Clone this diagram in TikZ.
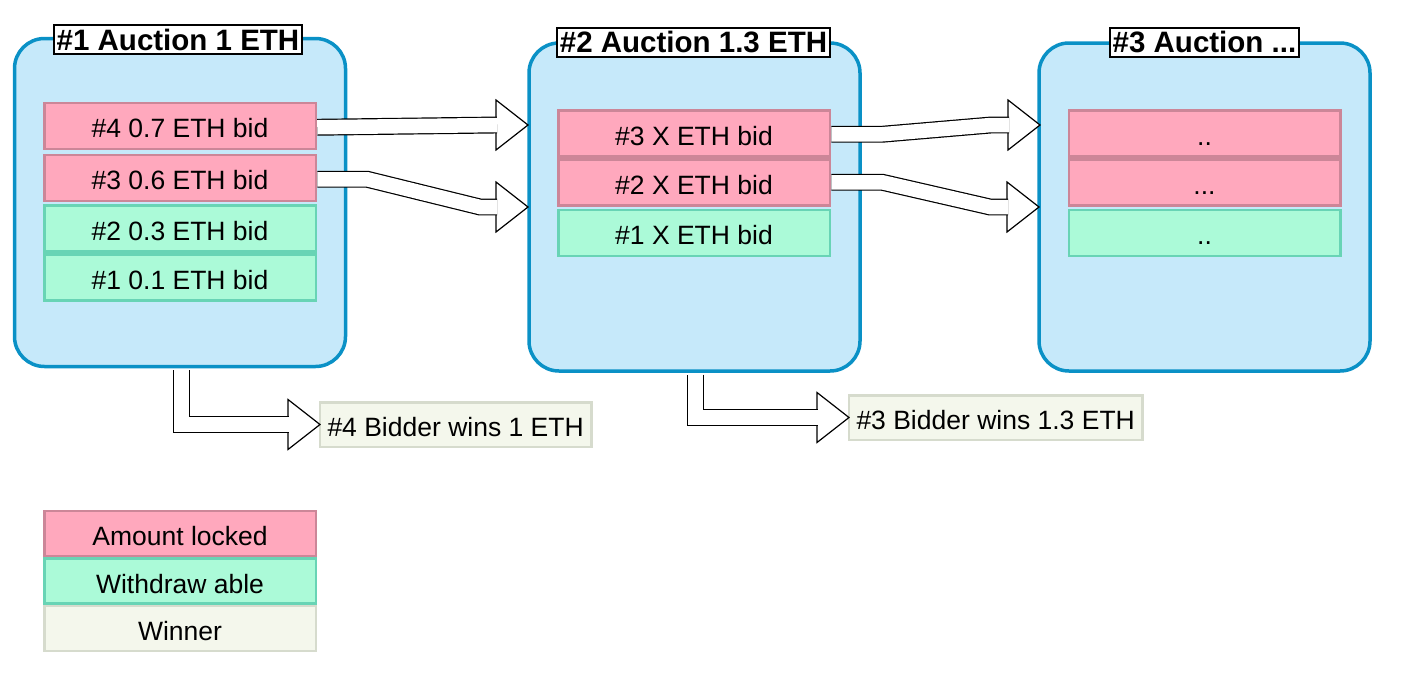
\documentclass[tikz,border=0pt]{standalone}
\usepackage{fontspec}
\setmainfont{Liberation Sans}
\usetikzlibrary{positioning,calc}

\definecolor{aucfill}{RGB}{198,233,250}
\definecolor{aucline}{RGB}{10,145,198}
\definecolor{lockfill}{RGB}{255,168,189}
\definecolor{lockline}{RGB}{204,134,152}
\definecolor{freefill}{RGB}{171,250,216}
\definecolor{freeline}{RGB}{104,212,181}
\definecolor{winfill}{RGB}{244,247,236}
\definecolor{winline}{RGB}{214,219,205}

\tikzset{
  auction/.style={draw=aucline, fill=aucfill, line width=3.5pt, rounded corners=30pt,
    minimum width=331pt, minimum height=328pt},
  auctitle/.style={draw=black, fill=white, line width=1.8pt, inner xsep=3pt, inner ysep=1pt,
    minimum height=29pt, font=\bfseries\fontsize{29.5}{32}\selectfont},
  lockbid/.style={draw=lockline, fill=lockfill, line width=2.5pt, minimum width=271.5pt,
    minimum height=46pt, inner sep=0pt, outer sep=0pt, text height=24pt, text depth=0pt,
    font=\fontsize{26.5}{30}\selectfont},
  freebid/.style={lockbid, draw=freeline, fill=freefill},
  winbox/.style={draw=winline, fill=winfill, line width=2.5pt, inner xsep=7.5pt, inner ysep=0pt,
    outer sep=0pt, minimum height=44.5pt, text height=23.5pt, text depth=0pt,
    font=\fontsize{26.5}{30}\selectfont},
  blockshaft/.style={draw=black, line width=1.2pt, double=white, double distance=14.5pt},
  blockhead/.pic={\draw[fill=white, line width=1.2pt] (-32,-25) -- (0,0) -- (-32,25) -- cycle;}
}

\begin{document}
\begin{tikzpicture}[x=1pt,y=1pt,yscale=-1,xscale=1]
\useasboundingbox (0,0) rectangle (1421,681);

% Auction boxes
\node[auction] (a1) at (180,202.5) {};
\node[auction] (a2) at (694.5,207) {};
\node[auction] (a3) at (1204.5,207) {};

% Titles
\node[auctitle] (h1) at ($(a1.north)+(-2,3)$) {\#1 Auction 1 ETH};
\node[auctitle] (h2) at ($(a2.north)+(-1,1)$) {\#2 Auction 1.3 ETH};
\node[auctitle] (h3) at ($(a3.north)+(0,1)$) {\#3 Auction ...};

% Bids of auction 1
\node[lockbid] (b14) at ($(a1.north)+(0,89)$) {\#4 0.7 ETH bid};
\node[lockbid, below=6pt of b14] (b13) {\#3 0.6 ETH bid};
\node[freebid, below=4.5pt of b13] (b12) {\#2 0.3 ETH bid};
\node[freebid, below=3pt of b12] (b11) {\#1 0.1 ETH bid};

% Bids of auction 2
\node[lockbid] (b23) at ($(a2.north)+(-0.5,92)$) {\#3 X ETH bid};
\node[lockbid, below=3pt of b23] (b22) {\#2 X ETH bid};
\node[freebid, below=4.5pt of b22] (b21) {\#1 X ETH bid};

% Bids of auction 3
\node[lockbid] (b33) at ($(a3.north)+(0,92)$) {..};
\node[lockbid, below=3pt of b33] (b32) {...};
\node[freebid, below=4.5pt of b32] (b31) {..};

% Winners
\node[winbox, anchor=west] (w1) at (320,424.5) {\#4 Bidder wins 1 ETH};
\node[winbox, anchor=west] (w2) at (849,417.5) {\#3 Bidder wins 1.3 ETH};

% Legend
\node[lockbid, minimum height=45pt] (l1) at (180,533.7) {Amount locked};
\node[freebid, minimum height=45pt, below=2.5pt of l1] (l2) {Withdraw able};
\node[winbox, minimum width=271.5pt, minimum height=45pt, below=2.5pt of l2] (l3) {Winner};

% Arrow tips
\coordinate (tip1) at (528,125);
\coordinate (tip2) at (528,207);
\coordinate (tip3) at (1040,125);
\coordinate (tip4) at (1039,207);

% Block arrows between auctions
\pic at (tip1) {blockhead};
\draw[blockshaft] ($(b14.east)+(1.5,1.5)$) -- ($(tip1)+(-31,0)$);
\pic at (tip2) {blockhead};
\draw[blockshaft] ($(b13.east)+(1.5,1.5)$) -- ++(50,0) -- ($(tip2)+(-48,0)$) -- ($(tip2)+(-31,0)$);
\pic at (tip3) {blockhead};
\draw[blockshaft] ($(b23.east)+(1.5,1)$) -- ++(51,0) -- ($(tip3)+(-49,0)$) -- ($(tip3)+(-31,0)$);
\pic at (tip4) {blockhead};
\draw[blockshaft] ($(b22.east)+(1.5,0)$) -- ++(51,0) -- ($(tip4)+(-49,0)$) -- ($(tip4)+(-31,0)$);

% Block arrows to winners
\pic at (w1.west) {blockhead};
\draw[blockshaft] ($(a1.south)+(1.5,1.8)$) |- ($(w1.west)+(-31,0)$);
\pic at (w2.west) {blockhead};
\draw[blockshaft] ($(a2.south)+(1,1.8)$) |- ($(w2.west)+(-31,0)$);
\end{tikzpicture}
\end{document}
